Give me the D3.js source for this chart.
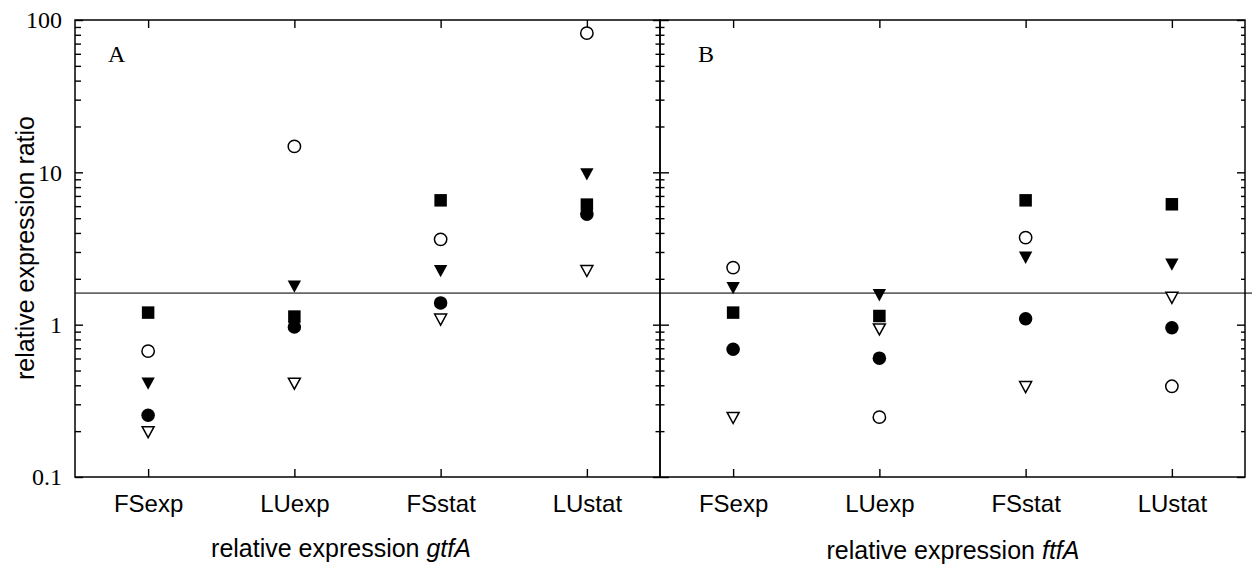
<!DOCTYPE html>
<html>
<head>
<meta charset="utf-8">
<script src="https://cdn.jsdelivr.net/npm/d3@7"></script>
<style>
  body { margin: 0; background: #fff; }
</style>
</head>
<body>
<svg id="chart" width="1257" height="568"></svg>
<script>
// categories on the x axis (same for both panels)
let categories = ["FSexp", "LUexp", "FSstat", "LUstat"];

// panel A: relative expression gtfA
let gtfSquare       = [1.2, 1.13, 6.55, 6.14];
let gtfOpenCircle   = [0.67, 14.8, 3.63, 82];
let gtfFilledTri    = [0.41, 1.78, 2.25, 9.7];
let gtfFilledCircle = [0.254, 0.965, 1.39, 5.3];
let gtfOpenTri      = [0.197, 0.41, 1.08, 2.25];

// panel B: relative expression ftfA
let ftfSquare       = [1.2, 1.14, 6.55, 6.17];
let ftfOpenCircle   = [2.37, 0.247, 3.73, 0.394];
let ftfFilledTri    = [1.74, 1.56, 2.75, 2.48];
let ftfFilledCircle = [0.689, 0.603, 1.095, 0.955];
let ftfOpenTri      = [0.244, 0.93, 0.389, 1.5];

let yMajor = [0.1, 1, 10, 100];
let yMinor = [2, 3, 4, 5, 6, 7, 8, 9].flatMap(m => [0.1, 1, 10].map(d => +(m * d).toPrecision(2)));
let referenceLevel = 1.61;

const SERIF = "'Liberation Serif', 'Times New Roman', serif";
const SANS = "'Liberation Sans', Arial, sans-serif";

let svg = d3.select("#chart");
let top_ = 20, bottom = 477;
let panelA = { x0: 75, x1: 660 };
let panelB = { x0: 660, x1: 1245 };

let y = d3.scaleLog().domain([0.1, 100]).range([bottom, top_]);

// down-pointing triangle, centred on its bounding box
let symbolTriDown = {
  draw(ctx, size) {
    let w = Math.sqrt(size * 2 / 0.92), h = w * 0.92;
    ctx.moveTo(-w / 2, -h / 2);
    ctx.lineTo(w / 2, -h / 2);
    ctx.lineTo(0, h / 2);
    ctx.closePath();
  }
};

let markerStyles = [
  { key: "openTri", type: symbolTriDown, size: 66, fill: "#fff", stroke: "#000" },
  { key: "openCircle", type: d3.symbolCircle, size: 120, fill: "#fff", stroke: "#000" },
  { key: "filledCircle", type: d3.symbolCircle, size: 143, fill: "#000", stroke: "none" },
  { key: "filledTri", type: symbolTriDown, size: 82, fill: "#000", stroke: "none" },
  { key: "square", type: d3.symbolSquare, size: 156, fill: "#000", stroke: "none" }
];

let panels = [
  {
    bounds: panelA, label: "A", labelX: 108, title: "gtfA", titleX: 341, titleY: 557,
    series: { openTri: gtfOpenTri, openCircle: gtfOpenCircle, filledCircle: gtfFilledCircle, filledTri: gtfFilledTri, square: gtfSquare }
  },
  {
    bounds: panelB, label: "B", labelX: 698, title: "ftfA", titleX: 953, titleY: 559,
    series: { openTri: ftfOpenTri, openCircle: ftfOpenCircle, filledCircle: ftfFilledCircle, filledTri: ftfFilledTri, square: ftfSquare }
  }
];

// reference line across both panels
svg.append("line")
  .attr("x1", panelA.x0)
  .attr("x2", panelB.x1 + 7)
  .attr("y1", y(referenceLevel))
  .attr("y2", y(referenceLevel))
  .attr("stroke", "#666")
  .attr("stroke-width", 1.6)
;

function styleAxis(g) {
  g.select(".domain").remove();
  g.selectAll(".tick line").attr("stroke", "#000").attr("stroke-width", 1.4);
}

panels.forEach(p => {
  let x = d3.scalePoint()
    .domain(categories)
    .range([p.bounds.x0, p.bounds.x1])
    .padding(0.5)
  ;

  // bottom ticks + category labels
  svg.append("g")
    .attr("transform", `translate(0,${bottom})`)
    .call(d3.axisBottom(x).tickSize(-8).tickPadding(18))
    .attr("font-family", SANS)
    .attr("font-size", 24)
    .call(styleAxis)
    .call(g => g.selectAll("text").attr("fill", "#000"))
  ;

  // top ticks
  svg.append("g")
    .attr("transform", `translate(0,${top_})`)
    .call(d3.axisTop(x).tickSize(-8).tickFormat(""))
    .call(styleAxis)
  ;

  // frame
  svg.append("rect")
    .attr("x", p.bounds.x0)
    .attr("y", top_)
    .attr("width", p.bounds.x1 - p.bounds.x0)
    .attr("height", bottom - top_)
    .attr("fill", "none")
    .attr("stroke", "#000")
    .attr("stroke-width", 1.5)
  ;

  // markers
  markerStyles.forEach(m => {
    let values = p.series[m.key];
    svg.append("g")
      .selectAll("path")
      .data(values)
      .enter()
      .append("path")
      .attr("d", d3.symbol().type(m.type).size(m.size))
      .attr("transform", (d, i) => `translate(${x(categories[i])},${y(d)})`)
      .attr("fill", m.fill)
      .attr("stroke", m.stroke)
      .attr("stroke-width", 1.5)
    ;
  });

  // panel letter
  svg.append("text")
    .attr("x", p.labelX)
    .attr("y", 62)
    .attr("font-family", SERIF)
    .attr("font-size", 24)
    .text(p.label)
  ;

  // axis title
  let t = svg.append("text")
    .attr("x", p.titleX)
    .attr("y", p.titleY)
    .attr("text-anchor", "middle")
    .attr("font-family", SANS)
    .attr("font-size", 25)
  ;
  t.append("tspan").text("relative expression ");
  t.append("tspan").attr("font-style", "italic").text(p.title);
});

// left y axis of panel A, with labels
svg.append("g")
  .attr("transform", `translate(${panelA.x0},0)`)
  .call(d3.axisLeft(y).tickValues(yMajor).tickSize(-8).tickPadding(13).tickFormat(d => String(d)))
  .attr("font-family", SERIF)
  .attr("font-size", 24)
  .call(styleAxis)
  .call(g => g.selectAll("text").attr("fill", "#000"))
;
svg.append("g")
  .attr("transform", `translate(${panelA.x0},0)`)
  .call(d3.axisLeft(y).tickValues(yMinor).tickSize(-6).tickFormat(""))
  .call(styleAxis)
;

// shared middle axis: ticks on both sides
svg.append("g")
  .attr("transform", `translate(${panelA.x1},0)`)
  .call(d3.axisLeft(y).tickValues(yMajor).tickSize(7).tickFormat(""))
  .call(styleAxis)
;
svg.append("g")
  .attr("transform", `translate(${panelA.x1},0)`)
  .call(d3.axisRight(y).tickValues(yMajor).tickSize(9).tickFormat(""))
  .call(styleAxis)
;
svg.append("g")
  .attr("transform", `translate(${panelA.x1},0)`)
  .call(d3.axisLeft(y).tickValues(yMinor).tickSize(4.5).tickFormat(""))
  .call(styleAxis)
;
svg.append("g")
  .attr("transform", `translate(${panelA.x1},0)`)
  .call(d3.axisRight(y).tickValues(yMinor).tickSize(4.5).tickFormat(""))
  .call(styleAxis)
;

// right axis of panel B, ticks pointing inward
svg.append("g")
  .attr("transform", `translate(${panelB.x1},0)`)
  .call(d3.axisRight(y).tickValues(yMajor).tickSize(-8).tickFormat(""))
  .call(styleAxis)
;
svg.append("g")
  .attr("transform", `translate(${panelB.x1},0)`)
  .call(d3.axisRight(y).tickValues(yMinor).tickSize(-4).tickFormat(""))
  .call(styleAxis)
;

// y axis title
svg.append("text")
  .attr("transform", "translate(34,248) rotate(-90)")
  .attr("text-anchor", "middle")
  .attr("font-family", SANS)
  .attr("font-size", 25)
  .text("relative expression ratio")
;
</script>
</body>
</html>
